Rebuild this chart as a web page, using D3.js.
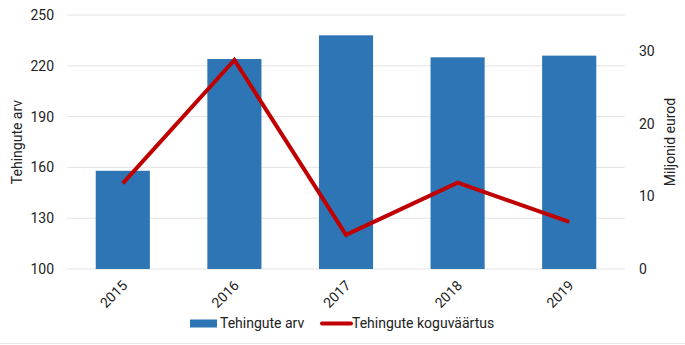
<!DOCTYPE html>
<html><head><meta charset="utf-8">
<script src="https://cdn.jsdelivr.net/npm/d3@7"></script>
<style>
body{margin:0;background:#fff;}
text{font-family:Roboto,"Liberation Sans",sans-serif;fill:#222;}
</style></head>
<body><svg id="c" width="685" height="345"></svg>
<script>
const years = ["2015","2016","2017","2018","2019"];
const dealCount = [158, 224, 238, 225, 226];
const totalValue = [11.8, 28.8, 4.7, 11.9, 6.5];
const leftTicks = [100,130,160,190,220,250];
const rightTicks = [0,10,20,30];
const seriesNames = ["Tehingute arv","Tehingute koguväärtus"];
const axisTitles = {left:"Tehingute arv", right:"Miljonid eurod"};

const svg = d3.select("#c");
const m = {l:67, r:60, t:15, b:76};
const W = 685, H = 345;
const x = d3.scaleBand().domain(years).range([m.l, W-m.r]).paddingInner(0.515).paddingOuter(0.2575);
const yL = d3.scaleLinear().domain([100,250]).range([H-m.b, m.t]);
const yR = d3.scaleLinear().domain([0,35]).range([H-m.b, m.t]);

// gridlines
svg.append("g").selectAll("line").data(leftTicks).join("line")
  .attr("x1", m.l).attr("x2", W-m.r).attr("y1", d=>yL(d)).attr("y2", d=>yL(d))
  .attr("stroke","#e3e3e3").attr("stroke-width",1);

// bars
svg.append("g").selectAll("rect").data(years).join("rect")
  .attr("x", d=>x(d)).attr("width", x.bandwidth())
  .attr("y", (d,i)=>yL(dealCount[i])).attr("height",(d,i)=>yL(100)-yL(dealCount[i]))
  .attr("fill","#2e75b6");

// line
const line = d3.line().x((d,i)=>x(years[i])+x.bandwidth()/2).y(d=>yR(d));
svg.append("path").datum(totalValue).attr("d", line)
  .attr("fill","none").attr("stroke","#c00000").attr("stroke-width",4).attr("stroke-linejoin","miter");

// left axis
const gl = svg.append("g").attr("transform",`translate(${m.l},0)`)
  .call(d3.axisLeft(yL).tickValues(leftTicks).tickSize(0).tickPadding(13));
gl.select(".domain").remove();
gl.selectAll("text").attr("font-size",14).attr("font-family","Roboto");

// right axis
const gr = svg.append("g").attr("transform",`translate(${W-m.r},0)`)
  .call(d3.axisRight(yR).tickValues(rightTicks).tickSize(0).tickPadding(14));
gr.select(".domain").remove();
gr.selectAll("text").attr("font-size",14).attr("font-family","Roboto");

// x axis labels
svg.append("g").selectAll("text").data(years).join("text")
  .attr("transform", d=>`translate(${x(d)+x.bandwidth()/2+2},${H-m.b+14}) rotate(-45)`)
  .attr("text-anchor","end").attr("dy","0.35em").attr("font-size",14).text(d=>d);

// axis titles
svg.append("text").attr("transform","translate(22,142) rotate(-90)")
  .attr("text-anchor","middle").attr("font-size",14).text(axisTitles.left);
svg.append("text").attr("transform","translate(675,142) rotate(-90)")
  .attr("text-anchor","middle").attr("font-size",14).text(axisTitles.right);

// legend
const lg = svg.append("g");
lg.append("rect").attr("x",190).attr("y",319.5).attr("width",27).attr("height",8).attr("fill","#2e75b6");
lg.append("text").attr("x",220).attr("y",323.5).attr("dy","0.35em").attr("font-size",14).text(seriesNames[0]);
lg.append("line").attr("x1",322).attr("x2",351).attr("y1",323.5).attr("y2",323.5)
  .attr("stroke","#c00000").attr("stroke-width",4).attr("stroke-linecap","round");
lg.append("text").attr("x",352).attr("y",323.5).attr("dy","0.35em").attr("font-size",14).text(seriesNames[1]);

// bottom border
svg.append("line").attr("x1",0).attr("x2",W).attr("y1",343.5).attr("y2",343.5).attr("stroke","#e6e6e6");
</script></body></html>
